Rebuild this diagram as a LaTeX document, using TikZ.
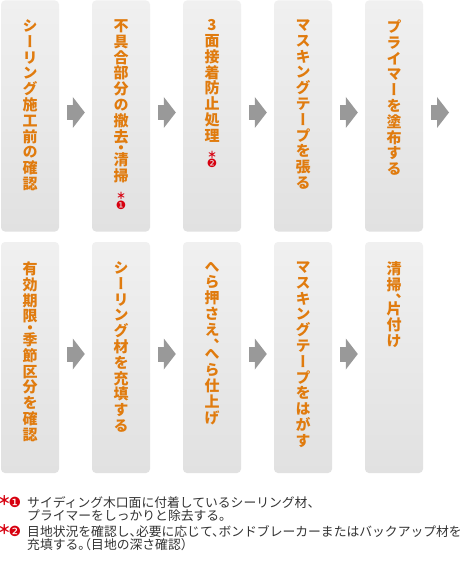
\documentclass[tikz,border=0pt]{standalone}
\usepackage{fontspec}
\usetikzlibrary{arrows.meta}
\newfontfamily\tatefont[RawFeature=+vert]{Noto Sans CJK JP}
\newfontfamily\notefont[RawFeature=+halt]{Noto Sans CJK JP}
\newfontfamily\markfont{DejaVu Sans}
\definecolor{steporange}{HTML}{E07B0E}
\definecolor{markred}{HTML}{D7000F}
\definecolor{arrowgray}{HTML}{999999}
\definecolor{boxtop}{HTML}{F0F0F0}
\definecolor{boxbottom}{HTML}{E1E1E1}
\definecolor{notegray}{HTML}{333333}

\begin{document}
\begin{tikzpicture}[x=1pt, y=-1pt,
	stepbox/.style = {rounded corners=4pt, top color=boxtop, bottom color=boxbottom, minimum width=58pt, minimum height=231pt, inner sep=0pt},
	tate/.style = {anchor=north, align=center, inner sep=0pt, text=steporange, font=\tatefont\bfseries\fontsize{15pt}{15.8pt}\selectfont},
	blockarrow/.style = {draw=arrowgray, line width=15pt, shorten <=8pt, shorten >=7pt, -{Triangle[length=12pt, width=31pt, line width=0pt]}},
	notestar/.style = {inner sep=0pt, text=markred, font=\notefont\bfseries\fontsize{13pt}{13pt}\selectfont},
	circnum/.style = {inner sep=0pt, text=markred, font=\markfont\fontsize{14pt}{14pt}\selectfont},
	notetext/.style = {anchor=north west, align=left, inner sep=0pt, text=notegray, font=\notefont\fontsize{12.8pt}{13pt}\selectfont}
]
	\useasboundingbox (0,0) rectangle (463,580);
	\fill[white] (0,0) rectangle (463,580);

	% upper row
	\node (b1)[stepbox] at (30,116) {};
	\node (b2)[stepbox] at (121,116) {};
	\node (b3)[stepbox] at (212,116) {};
	\node (b4)[stepbox] at (303,116) {};
	\node (b5)[stepbox] at (394,116) {};

	\node (t1)[tate] at (30,19.5) {シ\\ー\\リ\\ン\\グ\\施\\工\\前\\の\\確\\認};
	\node (t2)[tate] at (121,19.5) {不\\具\\合\\部\\分\\の\\撤\\去\\[-4pt]・\\[-4pt]清\\掃};
	\node (t3)[tate] at (212,19.5) {3\\面\\接\\着\\防\\止\\処\\理};
	\node (t4)[tate] at (303,19.5) {マ\\ス\\キ\\ン\\グ\\テ\\ー\\プ\\を\\張\\る};
	\node (t5)[tate] at (394,19.5) {プ\\ラ\\イ\\マ\\ー\\を\\塗\\布\\す\\る};

	\node (s1)[notestar, font=\notefont\bfseries\fontsize{9.5pt}{9.5pt}\selectfont] at (121,196) {＊};
	\node (k1)[circnum, font=\markfont\fontsize{11.5pt}{11.5pt}\selectfont] at (121,205.5) {❶};
	\node (s2)[notestar, font=\notefont\bfseries\fontsize{9.5pt}{9.5pt}\selectfont] at (212,154.5) {＊};
	\node (k2)[circnum, font=\markfont\fontsize{11.5pt}{11.5pt}\selectfont] at (212,163.5) {❷};

	% lower row
	\node (c1)[stepbox] at (30,357.5) {};
	\node (c2)[stepbox] at (121,357.5) {};
	\node (c3)[stepbox] at (212,357.5) {};
	\node (c4)[stepbox] at (303,357.5) {};
	\node (c5)[stepbox] at (394,357.5) {};

	\node (u1)[tate] at (30,261.5) {有\\効\\期\\限\\[-4pt]・\\[-4pt]季\\節\\区\\分\\を\\確\\認};
	\node (u2)[tate] at (121,261.5) {シ\\ー\\リ\\ン\\グ\\材\\を\\充\\填\\す\\る};
	\node (u3)[tate] at (212,261.5) {へ\\ら\\押\\さ\\え\\、\\[-7pt]へ\\ら\\仕\\上\\げ};
	\node (u4)[tate] at (303,261.5) {マ\\ス\\キ\\ン\\グ\\テ\\ー\\プ\\を\\は\\が\\す};
	\node (u5)[tate] at (394,261.5) {清\\掃\\、\\[-7pt]片\\付\\け};

	\coordinate (b6) at (456,112.5);

	\draw [blockarrow]([yshift=3.5pt]b1.east)--([yshift=3.5pt]b2.west);
	\draw [blockarrow]([yshift=3.5pt]b2.east)--([yshift=3.5pt]b3.west);
	\draw [blockarrow]([yshift=3.5pt]b3.east)--([yshift=3.5pt]b4.west);
	\draw [blockarrow]([yshift=3.5pt]b4.east)--([yshift=3.5pt]b5.west);
	\draw [blockarrow]([yshift=3.5pt]b5.east)--(b6);

	\draw [blockarrow]([yshift=3.5pt]c1.east)--([yshift=3.5pt]c2.west);
	\draw [blockarrow]([yshift=3.5pt]c2.east)--([yshift=3.5pt]c3.west);
	\draw [blockarrow]([yshift=3.5pt]c3.east)--([yshift=3.5pt]c4.west);
	\draw [blockarrow]([yshift=3.5pt]c4.east)--([yshift=3.5pt]c5.west);

	% notes
	\node (m1)[notestar] at (4.5,500.5) {\makebox[8pt]{＊}};
	\node (m2)[circnum] at (15,502) {❶};
	\node (n1)[notetext] at (27,496) {サイディング木口面に付着しているシーリング材、\\プライマーをしっかりと除去する。};

	\node (m3)[notestar] at (4.5,529.5) {\makebox[8pt]{＊}};
	\node (m4)[circnum] at (15,531) {❷};
	\node (n2)[notetext] at (27,525) {目地状況を確認し、必要に応じて、ボンドブレーカーまたはバックアップ材を\\充填する。（目地の深さ確認）};
\end{tikzpicture}
\end{document}
